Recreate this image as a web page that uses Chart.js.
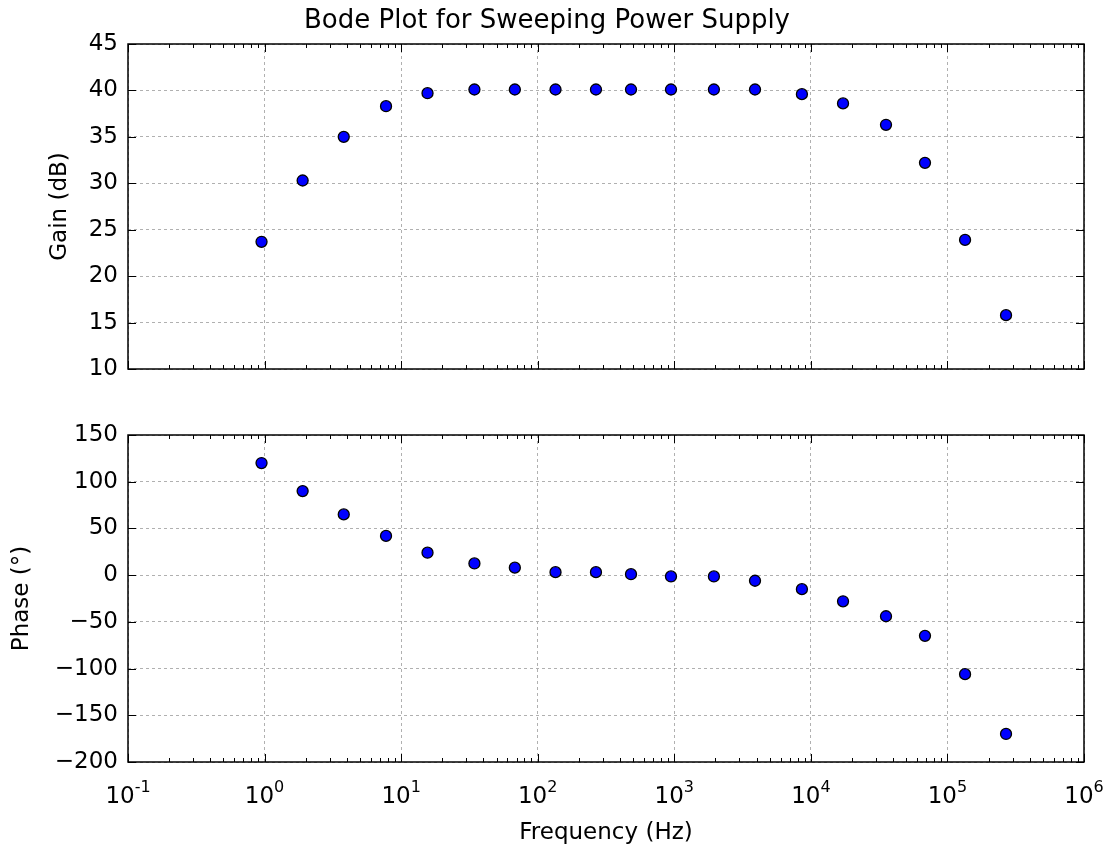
<!DOCTYPE html>
<html>
<head>
<meta charset="utf-8">
<title>Bode Plot</title>
<script src="https://cdn.jsdelivr.net/npm/chart.js@4.4.0/dist/chart.umd.min.js"></script>
<style>
  html, body { margin: 0; padding: 0; background: #fff; }
  #wrap { position: relative; width: 1110px; height: 849px; }
  canvas { position: absolute; left: 0; }
  #gainChart { top: 0; }
  #phaseChart { top: 400px; }
</style>
</head>
<body>
<div id="wrap">
  <canvas id="gainChart" width="1110" height="400"></canvas>
  <canvas id="phaseChart" width="1110" height="449"></canvas>
</div>
<script>
// 量測資料
const frequencies = [0.95, 1.9, 3.8, 7.75, 15.6, 34.4, 68, 135, 267, 482, 946, 1950, 3900, 8600, 17200, 35500, 68500, 134600, 268600];
const gainDb = [23.7, 30.3, 35.0, 38.3, 39.7, 40.1, 40.1, 40.1, 40.1, 40.1, 40.1, 40.1, 40.1, 39.6, 38.6, 36.3, 32.2, 23.9, 15.8];
const phaseDeg = [120, 90, 65, 42, 24, 12.5, 8, 3.2, 3.2, 1, -1.4, -1.4, -6, -15, -28, -44, -65, -106, -170];

// 刻度
const freqTicks = [0.1, 1, 10, 100, 1000, 10000, 100000, 1000000];
const freqTickExp = ["-1", "0", "1", "2", "3", "4", "5", "6"];
const gainTicks = [10, 15, 20, 25, 30, 35, 40, 45];
const phaseTicks = [-200, -150, -100, -50, 0, 50, 100, 150];

const titleText = "Bode Plot for Sweeping Power Supply";
const FONT = "DejaVu Sans";

Chart.defaults.font.family = FONT;
Chart.defaults.font.size = 23;
Chart.defaults.color = "#000";

/**
 * 外框、朝內的刻度線、x 軸 10 的次方標籤、標題
 */
const framePlugin = {
  id: "frame",
  afterDraw(chart, args, opts) {
    const { ctx, chartArea: a, scales } = chart;
    const xs = scales.x;
    const ys = scales.y;
    ctx.save();
    ctx.strokeStyle = "#000";
    ctx.lineWidth = 1;
    ctx.beginPath();
    // x 主刻度
    freqTicks.forEach((v) => {
      const px = Math.round(xs.getPixelForValue(v)) + 0.5;
      ctx.moveTo(px, a.top);
      ctx.lineTo(px, a.top + 8);
      ctx.moveTo(px, a.bottom);
      ctx.lineTo(px, a.bottom - 8);
    });
    // x 次刻度
    for (let d = 0; d < freqTicks.length - 1; d++) {
      for (let k = 2; k <= 9; k++) {
        const px = Math.round(xs.getPixelForValue(freqTicks[d] * k)) + 0.5;
        ctx.moveTo(px, a.top);
        ctx.lineTo(px, a.top + 4);
        ctx.moveTo(px, a.bottom);
        ctx.lineTo(px, a.bottom - 4);
      }
    }
    // y 刻度
    opts.yTicks.forEach((v) => {
      const py = Math.round(ys.getPixelForValue(v)) + 0.5;
      ctx.moveTo(a.left, py);
      ctx.lineTo(a.left + 8, py);
      ctx.moveTo(a.right, py);
      ctx.lineTo(a.right - 8, py);
    });
    ctx.stroke();

    ctx.lineWidth = 1.5;
    ctx.strokeRect(a.left, a.top, a.right - a.left, a.bottom - a.top);

    ctx.fillStyle = "#000";
    if (opts.title) {
      ctx.font = `26px "${FONT}"`;
      ctx.textAlign = "center";
      ctx.textBaseline = "alphabetic";
      ctx.fillText(opts.title, 547, 28);
    }

    if (opts.xLabels) {
      ctx.textAlign = "left";
      ctx.textBaseline = "alphabetic";
      freqTicks.forEach((v, i) => {
        const px = xs.getPixelForValue(v);
        ctx.font = `23px "${FONT}"`;
        const wBase = ctx.measureText("10").width;
        ctx.font = `16px "${FONT}"`;
        const wExp = ctx.measureText(freqTickExp[i]).width;
        const x0 = px - (wBase + wExp) / 2;
        ctx.font = `23px "${FONT}"`;
        ctx.fillText("10", x0, a.bottom + 41);
        ctx.font = `16px "${FONT}"`;
        ctx.fillText(freqTickExp[i], x0 + wBase, a.bottom + 29.5);
      });
    }
    ctx.restore();
  },
};

function makeXScale(showTitle, height) {
  return {
    type: "logarithmic",
    min: 0.1,
    max: 1000000,
    afterBuildTicks: (scale) => {
      scale.ticks = freqTicks.map((v) => ({ value: v }));
    },
    afterFit: (scale) => {
      scale.height = height;
    },
    ticks: { display: false },
    grid: { color: "#b0b0b0", lineWidth: 1, drawTicks: false },
    border: { display: false, dash: [3, 3] },
    title: {
      display: showTitle,
      text: "Frequency (Hz)",
      font: { size: 23 },
      padding: { top: 0, bottom: 2 },
    },
  };
}

function makeYScale(ticks, label, titlePad) {
  return {
    min: ticks[0],
    max: ticks[ticks.length - 1],
    afterBuildTicks: (scale) => {
      scale.ticks = ticks.map((v) => ({ value: v }));
    },
    afterFit: (scale) => {
      scale.width = 128;
    },
    ticks: {
      padding: 10,
      callback: (value) => String(value).replace("-", "\u2212"),
    },
    grid: { color: "#b0b0b0", lineWidth: 1, drawTicks: false },
    border: { display: false, dash: [3, 3] },
    title: {
      display: true,
      text: label,
      font: { size: 23 },
      padding: { top: titlePad, bottom: 0 },
    },
  };
}

function makeDataset(yValues) {
  return {
    data: frequencies.map((f, i) => ({ x: f, y: yValues[i] })),
    showLine: false,
    pointRadius: 5.5,
    pointBackgroundColor: "#0000ff",
    pointBorderColor: "#000",
    pointBorderWidth: 1.3,
  };
}

const gainChart = new Chart(document.querySelector("#gainChart").getContext("2d"), {
  type: "scatter",
  data: { datasets: [makeDataset(gainDb)] },
  options: {
    responsive: false,
    animation: false,
    layout: { padding: { left: 0, right: 26, top: 44, bottom: 31 } },
    plugins: {
      legend: { display: false },
      tooltip: { enabled: false },
      frame: { yTicks: gainTicks, title: titleText, xLabels: false },
    },
    scales: {
      x: makeXScale(false, 0),
      y: makeYScale(gainTicks, "Gain (dB)", 46),
    },
  },
  plugins: [framePlugin],
});

const phaseChart = new Chart(document.querySelector("#phaseChart").getContext("2d"), {
  type: "scatter",
  data: { datasets: [makeDataset(phaseDeg)] },
  options: {
    responsive: false,
    animation: false,
    layout: { padding: { left: 0, right: 26, top: 35, bottom: 0 } },
    plugins: {
      legend: { display: false },
      tooltip: { enabled: false },
      frame: { yTicks: phaseTicks, title: null, xLabels: true },
    },
    scales: {
      x: makeXScale(true, 87),
      y: makeYScale(phaseTicks, "Phase (°)", 8),
    },
  },
  plugins: [framePlugin],
});
</script>
</body>
</html>
